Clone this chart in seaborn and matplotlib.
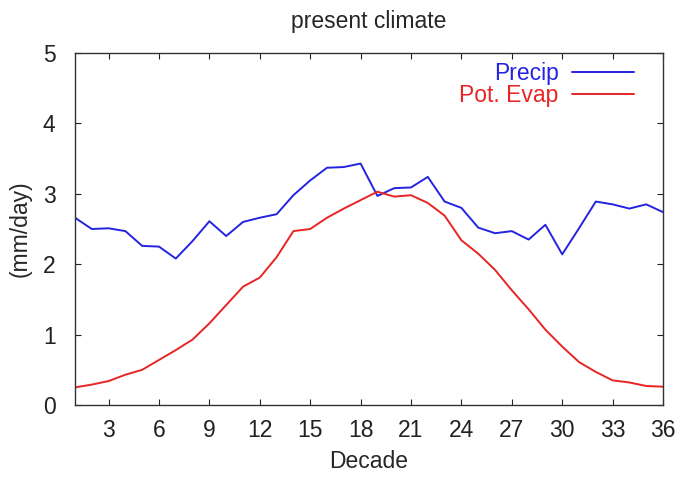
import numpy as np
import pandas as pd
import matplotlib
matplotlib.use("Agg")
import matplotlib.pyplot as plt
import seaborn as sns

# decadal values
decade = list(range(1, 37))
precip = [2.66, 2.50, 2.51, 2.47, 2.26, 2.25, 2.08, 2.33, 2.61, 2.40,
          2.60, 2.66, 2.71, 2.98, 3.19, 3.37, 3.38, 3.43, 2.97, 3.08,
          3.09, 3.24, 2.89, 2.80, 2.52, 2.44, 2.47, 2.35, 2.56, 2.14,
          2.51, 2.89, 2.85, 2.79, 2.85, 2.74]
evap = [0.25, 0.29, 0.34, 0.43, 0.50, 0.64, 0.78, 0.93, 1.16, 1.42,
        1.68, 1.81, 2.10, 2.47, 2.50, 2.66, 2.79, 2.91, 3.03, 2.96,
        2.98, 2.87, 2.69, 2.34, 2.15, 1.92, 1.63, 1.36, 1.07, 0.83,
        0.61, 0.47, 0.35, 0.32, 0.27, 0.26]
xticks = list(range(3, 37, 3))
yticks = [0, 1, 2, 3, 4, 5]

df = pd.DataFrame({
    "Decade": decade * 2,
    "value": precip + evap,
    "series": ["Precip"] * len(decade) + ["Pot. Evap"] * len(decade),
})

sns.set_style("ticks")
plt.rcParams["font.family"] = ["Liberation Sans", "DejaVu Sans"]

blue = "#2424e0"
red = "#e82424"
fs = 16.5

fig = plt.figure(figsize=(6.77, 4.78), dpi=100)
ax = fig.add_axes([75 / 677, 1 - 405 / 478, 588 / 677, 352 / 478])

sns.lineplot(data=df, x="Decade", y="value", hue="series",
             palette={"Precip": blue, "Pot. Evap": red},
             linewidth=1.4, ax=ax)

ax.set_xlim(1, 36)
ax.set_ylim(0, 5)
ax.set_xticks(xticks)
ax.set_yticks(yticks)
ax.tick_params(direction="in", length=4, width=0.8, top=True, right=True,
               labelsize=fs, colors="#222222")
ax.tick_params(axis="x", pad=10)
ax.tick_params(axis="y", pad=14)
for s in ax.spines.values():
    s.set_color("#333333")
    s.set_linewidth(1.0)

ax.set_title("present climate", fontsize=fs, pad=18)
ax.set_xlabel("Decade", fontsize=fs, labelpad=6)
ax.set_ylabel("(mm/day)", fontsize=fs, labelpad=8)

ax.legend(loc="upper right", bbox_to_anchor=(0.951, 0.975), frameon=False,
          markerfirst=False, handlelength=2.7, handletextpad=0.6,
          labelspacing=-0.05, borderaxespad=0, borderpad=0, fontsize=fs,
          labelcolor="linecolor", title=None)

fig.savefig("out.png", dpi=100)
